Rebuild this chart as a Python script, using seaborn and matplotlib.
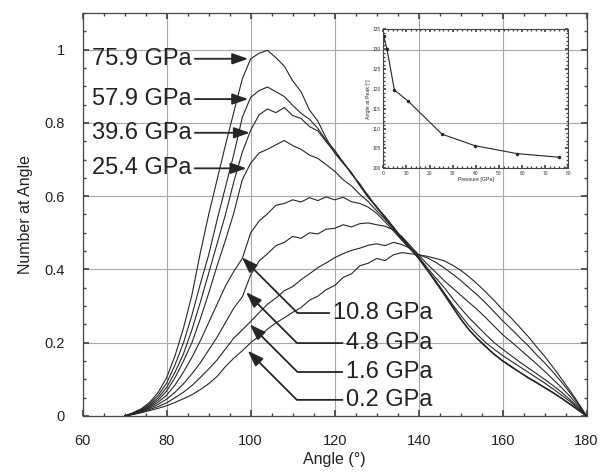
import matplotlib
matplotlib.use('Agg')
import pandas as pd
import matplotlib.pyplot as plt
from matplotlib.ticker import MultipleLocator
import seaborn as sns

# Angle grid (degrees) and the distribution for each pressure
angles = list(range(70, 181, 2))

pressure_labels = ['0.2 GPa', '1.6 GPa', '4.8 GPa', '10.8 GPa',
                   '25.4 GPa', '39.6 GPa', '57.9 GPa', '75.9 GPa']

curve_02 = [0, 0.004, 0.009, 0.015, 0.021, 0.028, 0.037, 0.047, 0.058, 0.072,
            0.088, 0.108, 0.135, 0.158, 0.178, 0.2, 0.218, 0.237, 0.254, 0.268,
            0.283, 0.296, 0.316, 0.327, 0.345, 0.356, 0.378, 0.388, 0.41, 0.417,
            0.43, 0.424, 0.44, 0.446, 0.443, 0.44, 0.436, 0.43, 0.424, 0.412,
            0.398, 0.38, 0.36, 0.338, 0.315, 0.29, 0.268, 0.243, 0.218, 0.19,
            0.163, 0.133, 0.102, 0.07, 0.036, 0]
curve_16 = [0, 0.005, 0.011, 0.018, 0.026, 0.036, 0.05, 0.065, 0.083, 0.105,
            0.128, 0.153, 0.183, 0.213, 0.235, 0.258, 0.282, 0.305, 0.322, 0.342,
            0.353, 0.372, 0.388, 0.405, 0.418, 0.432, 0.443, 0.452, 0.458, 0.466,
            0.47, 0.465, 0.474, 0.468, 0.458, 0.44, 0.432, 0.42, 0.405, 0.388,
            0.37, 0.35, 0.33, 0.308, 0.284, 0.26, 0.238, 0.215, 0.193, 0.168,
            0.145, 0.12, 0.093, 0.064, 0.033, 0]
curve_48 = [0, 0.005, 0.012, 0.021, 0.032, 0.046, 0.065, 0.088, 0.115, 0.145,
            0.18, 0.215, 0.255, 0.295, 0.325, 0.385, 0.423, 0.443, 0.465, 0.474,
            0.49, 0.485, 0.5, 0.497, 0.51, 0.512, 0.522, 0.516, 0.525, 0.527,
            0.522, 0.518, 0.508, 0.49, 0.465, 0.44, 0.415, 0.393, 0.37, 0.35,
            0.33, 0.31, 0.29, 0.268, 0.245, 0.222, 0.203, 0.183, 0.163, 0.143,
            0.122, 0.1, 0.078, 0.054, 0.028, 0]
curve_108 = [0, 0.006, 0.013, 0.024, 0.038, 0.057, 0.085, 0.12, 0.16, 0.205,
             0.255, 0.305, 0.355, 0.395, 0.43, 0.5, 0.532, 0.552, 0.575, 0.58,
             0.59, 0.584, 0.596, 0.588, 0.598, 0.59, 0.597, 0.585, 0.58, 0.57,
             0.553, 0.53, 0.505, 0.48, 0.455, 0.435, 0.405, 0.378, 0.352, 0.322,
             0.294, 0.268, 0.245, 0.222, 0.2, 0.182, 0.165, 0.148, 0.132, 0.116,
             0.1, 0.083, 0.065, 0.045, 0.023, 0]
curve_254 = [0, 0.007, 0.015, 0.027, 0.044, 0.068, 0.105, 0.15, 0.2, 0.265,
             0.335, 0.41, 0.48, 0.555, 0.645, 0.69, 0.718, 0.728, 0.74, 0.752,
             0.738, 0.728, 0.712, 0.703, 0.686, 0.668, 0.645, 0.628, 0.605, 0.585,
             0.56, 0.537, 0.51, 0.482, 0.456, 0.43, 0.4, 0.37, 0.338, 0.305,
             0.275, 0.246, 0.222, 0.2, 0.182, 0.165, 0.15, 0.135, 0.12, 0.105,
             0.09, 0.074, 0.057, 0.04, 0.02, 0]
curve_396 = [0, 0.007, 0.016, 0.03, 0.05, 0.078, 0.12, 0.17, 0.235, 0.31,
             0.39, 0.47, 0.55, 0.64, 0.72, 0.78, 0.822, 0.838, 0.828, 0.842,
             0.82, 0.812, 0.79, 0.778, 0.748, 0.72, 0.694, 0.66, 0.634, 0.598,
             0.572, 0.54, 0.516, 0.485, 0.46, 0.432, 0.4, 0.367, 0.336, 0.3,
             0.266, 0.235, 0.212, 0.19, 0.169, 0.151, 0.136, 0.12, 0.106, 0.092,
             0.078, 0.064, 0.049, 0.033, 0.017, 0]
curve_579 = [0, 0.008, 0.018, 0.034, 0.057, 0.09, 0.14, 0.2, 0.275, 0.36,
             0.44, 0.535, 0.625, 0.715, 0.815, 0.87, 0.888, 0.898, 0.885, 0.872,
             0.848, 0.826, 0.81, 0.785, 0.752, 0.726, 0.692, 0.664, 0.63, 0.602,
             0.568, 0.543, 0.512, 0.488, 0.458, 0.43, 0.398, 0.366, 0.332, 0.298,
             0.264, 0.236, 0.21, 0.188, 0.168, 0.15, 0.134, 0.12, 0.104, 0.091,
             0.077, 0.063, 0.048, 0.032, 0.016, 0]
curve_759 = [0, 0.009, 0.02, 0.038, 0.065, 0.105, 0.165, 0.24, 0.33, 0.445,
             0.55, 0.645, 0.74, 0.83, 0.92, 0.975, 0.99, 0.998, 0.978, 0.955,
             0.915, 0.885, 0.835, 0.805, 0.758, 0.718, 0.69, 0.664, 0.628, 0.596,
             0.57, 0.545, 0.515, 0.486, 0.46, 0.43, 0.4, 0.368, 0.335, 0.3,
             0.265, 0.235, 0.21, 0.19, 0.168, 0.15, 0.135, 0.12, 0.105, 0.092,
             0.078, 0.064, 0.049, 0.033, 0.016, 0]

curves = [curve_02, curve_16, curve_48, curve_108,
          curve_254, curve_396, curve_579, curve_759]

# Inset: angle at peak vs pressure
inset_pressure = [0.2, 1.6, 4.8, 10.8, 25.4, 39.6, 57.9, 75.9]
inset_peak = [133.2, 130.0, 119.7, 116.9, 108.6, 105.7, 103.7, 102.8]

# label positions: (text x, text y, arrow tip x, arrow tip y)
top_labels = ['75.9 GPa', '57.9 GPa', '39.6 GPa', '25.4 GPa']
top_text_y = [0.975, 0.865, 0.773, 0.676]
top_tip_x = [99.4, 99.4, 99.8, 99.0]
bottom_labels = ['10.8 GPa', '4.8 GPa', '1.6 GPa', '0.2 GPa']
bottom_text_y = [0.281, 0.199, 0.12, 0.044]
bottom_tip = [(97.9, 0.433), (98.9, 0.338), (99.8, 0.25), (99.3, 0.178)]

rows = []
for lab, vals in zip(pressure_labels, curves):
    for a, v in zip(angles, vals):
        rows.append({'angle': a, 'count': v, 'pressure': lab})
df = pd.DataFrame(rows)

sns.set_theme(style='ticks')
plt.rcParams['font.family'] = ['Liberation Sans', 'DejaVu Sans']

ink = '#262626'
fig = plt.figure(figsize=(6.06, 4.74), dpi=100)
ax = fig.add_axes([0.1365, 0.1224, 0.8315, 0.8502])

sns.lineplot(data=df, x='angle', y='count', hue='pressure',
             palette=[ink] * len(pressure_labels), legend=False,
             estimator=None, sort=False, linewidth=0.8, ax=ax)

ax.set_xlim(60, 180)
ax.set_ylim(0, 1.1)
ax.xaxis.set_major_locator(MultipleLocator(20))
ax.xaxis.set_minor_locator(MultipleLocator(5))
ax.yaxis.set_major_locator(MultipleLocator(0.2))
ax.yaxis.set_minor_locator(MultipleLocator(0.05))
ax.set_yticks([0, 0.2, 0.4, 0.6, 0.8, 1.0])
ax.set_yticklabels(['0', '0.2', '0.4', '0.6', '0.8', '1'])
ax.grid(True, which='major', color='#a8a8a8', linewidth=0.8)
ax.tick_params(which='both', direction='in', top=True, right=True,
               colors='#444444', labelcolor='#222222')
ax.tick_params(which='major', length=4, labelsize=10.5, pad=13)
ax.tick_params(which='minor', length=2.5)
for sp in ax.spines.values():
    sp.set_color('#444444')
    sp.set_linewidth(0.9)
ax.set_xlabel('Angle (°)', fontsize=11.5, labelpad=3, color='#222222')
ax.set_ylabel('Number at Angle', fontsize=11.5, labelpad=8, color='#222222')

arrow_style = '-|>,head_length=0.8,head_width=0.28'
for lab, ty, tx in zip(top_labels, top_text_y, top_tip_x):
    ax.annotate(lab, xy=(tx, ty), xytext=(62.2, ty), ha='left', va='center',
                fontsize=17, color='#222222',
                arrowprops=dict(arrowstyle=arrow_style, color=ink, lw=1.3,
                                shrinkA=0, shrinkB=0, mutation_scale=12))

for lab, ty, tip in zip(bottom_labels, bottom_text_y, bottom_tip):
    ax.annotate(lab, xy=tip, xytext=(143.2, ty), ha='right', va='center',
                fontsize=17, color='#222222',
                arrowprops=dict(arrowstyle=arrow_style, color=ink, lw=1.3,
                                shrinkA=0, shrinkB=0, mutation_scale=12,
                                relpos=(0, 0.5),
                                connectionstyle='angle,angleA=180,angleB=135,rad=0'))

# inset
ins = fig.add_axes([0.6325, 0.6449, 0.3053, 0.2932])
ins.set_facecolor('none')
inset_df = pd.DataFrame({'pressure': inset_pressure, 'peak': inset_peak})
sns.lineplot(data=inset_df, x='pressure', y='peak', color=ink, linewidth=0.8,
             marker='o', markersize=2.5, markeredgewidth=0, ax=ins)
ins.set_xlim(0, 80)
ins.set_ylim(100, 135)
ins.xaxis.set_major_locator(MultipleLocator(10))
ins.xaxis.set_minor_locator(MultipleLocator(2))
ins.yaxis.set_major_locator(MultipleLocator(5))
ins.yaxis.set_minor_locator(MultipleLocator(1))
ins.tick_params(which='both', direction='in', top=True, right=True,
                labelsize=3.5, pad=2, colors='#444444', labelcolor='#333333')
ins.tick_params(which='major', length=2.5)
ins.tick_params(which='minor', length=1.2)
for sp in ins.spines.values():
    sp.set_color('#444444')
    sp.set_linewidth(0.8)
ins.set_xlabel('Pressure [GPa]', fontsize=3.8, labelpad=1)
ins.set_ylabel('Angle at Peak [°]', fontsize=3.8, labelpad=1)

fig.savefig('out.png', dpi=100)
